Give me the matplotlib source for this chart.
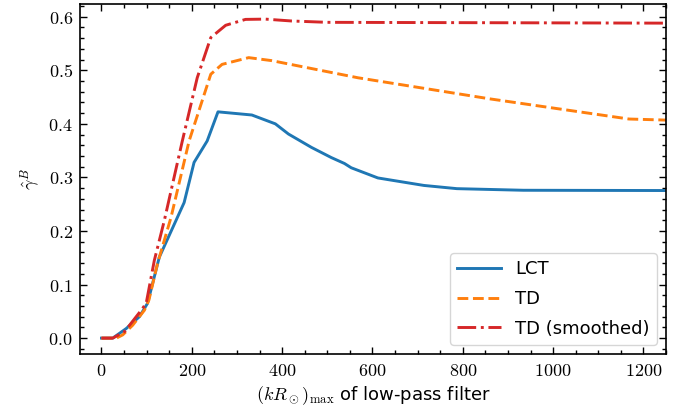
import numpy as np
import matplotlib
matplotlib.use("Agg")
import matplotlib.pyplot as plt
from matplotlib.ticker import MultipleLocator, FuncFormatter

plt.rcParams['mathtext.fontset'] = 'cm'
plt.rcParams['font.family'] = ['DejaVu Sans']

# LCT
x_lct = [0, 25, 55, 84, 102, 128, 183, 205, 234, 258, 333, 385, 414, 465, 509,
         538, 553, 612, 641, 714, 787, 934, 1250]
y_lct = [0.0, 0.0, 0.018, 0.040, 0.065, 0.151, 0.253, 0.328, 0.368, 0.4224, 0.4165,
         0.400, 0.381, 0.356, 0.337, 0.326, 0.318, 0.299, 0.295, 0.285, 0.279, 0.276, 0.2755]

# TD
x_td = [0, 33, 47, 69, 95, 105, 124, 154, 194, 242, 267, 326, 377, 568, 861, 1168, 1250]
y_td = [0.0, 0.0, 0.006, 0.024, 0.052, 0.071, 0.139, 0.2255, 0.368, 0.4926, 0.511,
        0.5236, 0.518, 0.486, 0.4465, 0.409, 0.407]

# TD smoothed
x_tds = [0, 25, 51, 88, 99, 117, 139, 179, 212, 242, 275, 319, 363, 421, 500, 1250]
y_tds = [0.0, 0.0, 0.012, 0.052, 0.065, 0.145, 0.219, 0.368, 0.486, 0.561, 0.584,
         0.595, 0.5955, 0.592, 0.5895, 0.588]

fig = plt.figure(figsize=(6.88, 4.12), dpi=100)
ax = fig.add_axes([0.116, 0.141, 0.852, 0.849])

ax.plot(x_lct, y_lct, color='#1f77b4', lw=2.1, label='LCT')
ax.plot(x_td, y_td, color='#ff7f0e', lw=2.1, ls='--', label='TD')
ax.plot(x_tds, y_tds, color='#d62728', lw=2.1, ls='-.', label='TD (smoothed)')

ax.set_xlim(-48, 1250)
ax.set_ylim(-0.0295, 0.6235)
ax.xaxis.set_major_locator(MultipleLocator(200))
ax.xaxis.set_minor_locator(MultipleLocator(50))
ax.yaxis.set_major_locator(MultipleLocator(0.1))
ax.yaxis.set_minor_locator(MultipleLocator(0.02))
ax.xaxis.set_major_formatter(FuncFormatter(lambda v, p: r'$%d$' % round(v)))
ax.yaxis.set_major_formatter(FuncFormatter(lambda v, p: r'$%.1f$' % v))
ax.tick_params(which='both', direction='in', top=True, right=True, labelsize=13)
ax.tick_params(which='major', length=5, width=1)
ax.tick_params(which='minor', length=3, width=1)
ax.tick_params(axis='x', which='major', pad=6)
ax.tick_params(axis='y', which='major', pad=5)
for s in ax.spines.values():
    s.set_linewidth(1.2)

ax.set_xlabel(r'$(kR_\odot)_{\rm max}$ of low-pass filter', fontsize=13, labelpad=3)
ax.set_ylabel(r'$\hat{\gamma}^B$', fontsize=13, labelpad=4)
ax.legend(loc='lower right', fontsize=13, handlelength=2.4, labelspacing=0.65)

fig.savefig('out.png', dpi=100)
